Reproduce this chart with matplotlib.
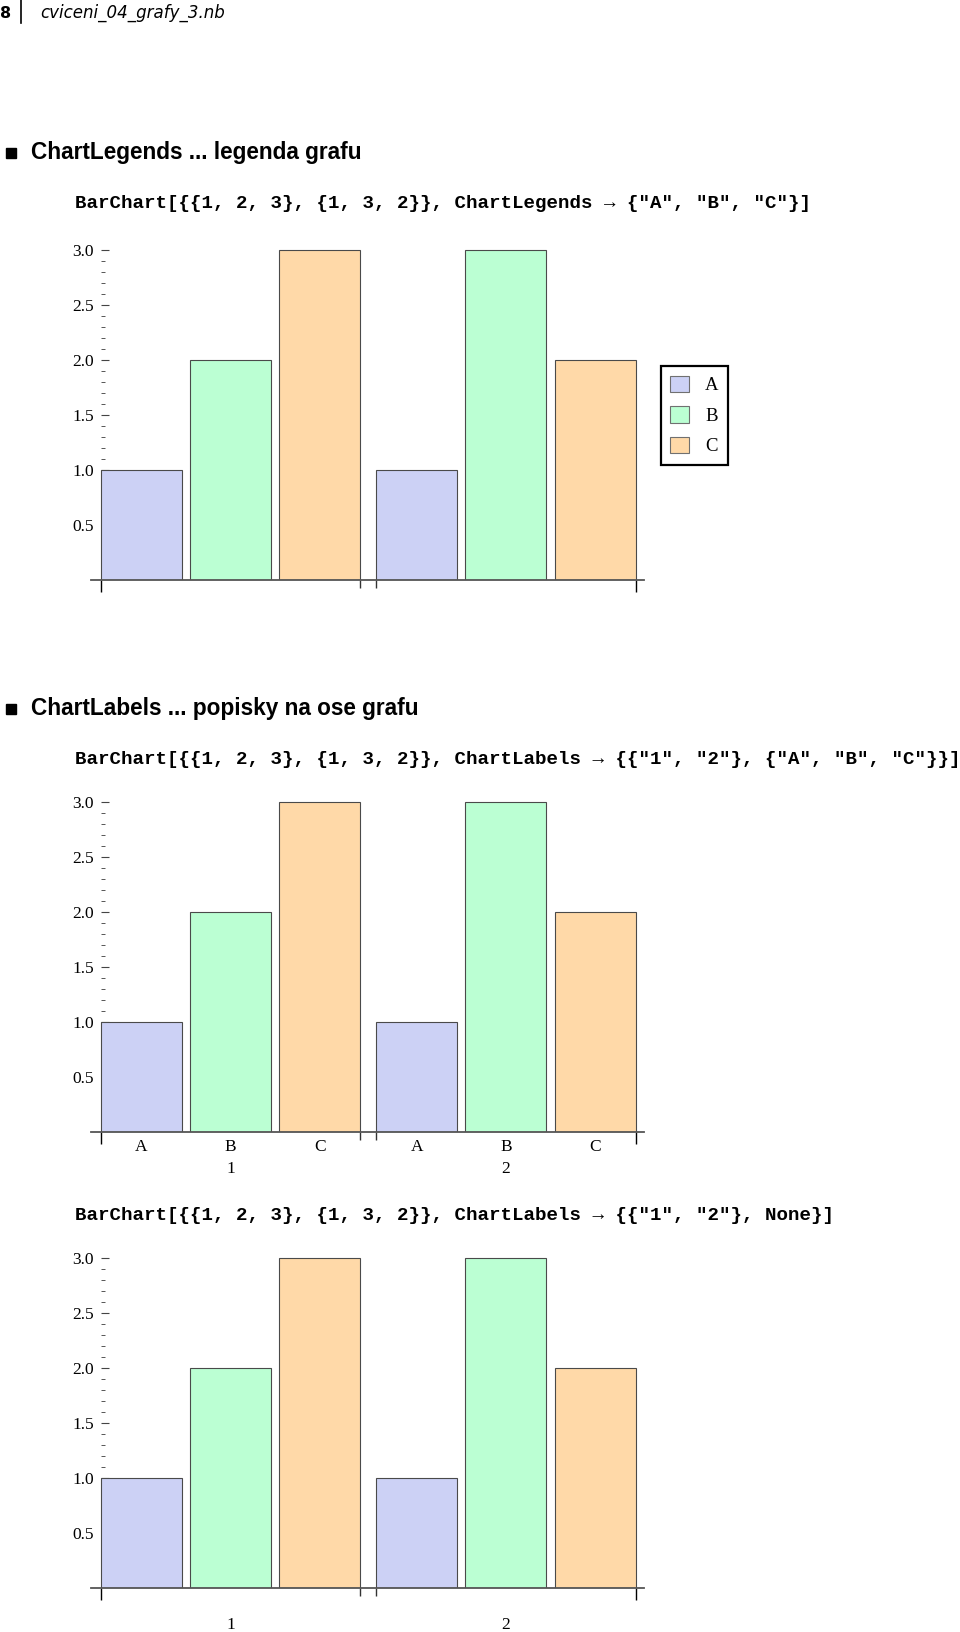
import matplotlib
matplotlib.use("Agg")
import matplotlib.pyplot as plt
from matplotlib import font_manager
from matplotlib.patches import Patch, Rectangle
from matplotlib.ticker import FixedLocator, NullFormatter
import numpy as np

# ---- data ----
series_labels = ["A", "B", "C"]
group_labels = ["1", "2"]
group_values = [[1, 2, 3], [1, 3, 2]]
fill_colors = ["#CCD1F5", "#BBFFD3", "#FFD9A8"]
y_major = [0.5, 1.0, 1.5, 2.0, 2.5, 3.0]
y_tick_labels = ["0.5", "1.0", "1.5", "2.0", "2.5", "3.0"]

header_page = "8"
header_file = "cviceni_04_grafy_3.nb"
heading1 = "ChartLegends ... legenda grafu"
heading2 = "ChartLabels ... popisky na ose grafu"
code1 = 'BarChart[{{1, 2, 3}, {1, 3, 2}}, ChartLegends \u2192 {"A", "B", "C"}]'
code2 = 'BarChart[{{1, 2, 3}, {1, 3, 2}}, ChartLabels \u2192 {{"1", "2"}, {"A", "B", "C"}}]'
code3 = 'BarChart[{{1, 2, 3}, {1, 3, 2}}, ChartLabels \u2192 {{"1", "2"}, None}]'


def have(fam):
    try:
        font_manager.findfont(font_manager.FontProperties(family=fam), fallback_to_default=False)
        return True
    except Exception:
        return False

narrow = have("Liberation Sans Narrow")
head_family = ["Liberation Sans Narrow", "DejaVu Sans"] if narrow else ["Liberation Sans", "DejaVu Sans"]
head_size = 18 if narrow else 16.3
serif = ["Liberation Serif", "DejaVu Serif"]
mono = ["Liberation Mono", "DejaVu Sans Mono"]

W, H = 960, 1632
fig = plt.figure(figsize=(W / 100, H / 100), dpi=100)
fig.patch.set_facecolor("white")


def fx(px):
    return px / W


def fy(py):
    return 1 - py / H


# ---- header ----
fig.text(fx(0), fy(13), header_page, fontsize=11.5, fontweight="bold",
         family=["DejaVu Sans"], va="center", ha="left")
fig.add_artist(plt.Line2D([fx(21), fx(21)], [fy(0), fy(23)], color="black", lw=1.2))
fig.text(fx(40), fy(13), header_file, fontsize=12, style="italic",
         family=["DejaVu Sans"], va="center", ha="left")

# ---- headings & code ----
for ytop, txt in [(153, heading1), (709, heading2)]:
    fig.add_artist(Rectangle((fx(6), fy(ytop + 5)), fx(10), 10 / H,
                             transform=fig.transFigure, color="black"))
    fig.text(fx(31), fy(ytop), txt, fontsize=head_size, fontweight="bold",
             family=head_family, va="center", ha="left")

for yc, txt in [(204, code1), (759, code2), (1215, code3)]:
    fig.text(fx(75), fy(yc), txt, fontsize=13.75, fontweight="bold",
             family=mono, va="center", ha="left")

# ---- bar charts ----
bar_w = 1.0
inner_gap = 0.1
group_gap = 0.2
unit_px = 81.0
y_px = 110.0
x0_px = 101.0
xlim = (-0.15, 6.8)
ylim = (0.0, 3.05)

positions = []
x = 0.0
for g in range(len(group_values)):
    row = []
    for s in range(len(series_labels)):
        row.append(x)
        x += bar_w + inner_gap
    x += group_gap - inner_gap
    positions.append(row)
group_start = [row[0] for row in positions]
group_end = [row[-1] + bar_w for row in positions]


def make_chart(axis_y_px, bar_labels=False, grp_labels=False):
    left_px = x0_px + xlim[0] * unit_px
    width_px = (xlim[1] - xlim[0]) * unit_px
    height_px = (ylim[1] - ylim[0]) * y_px
    ax = fig.add_axes([fx(left_px), fy(axis_y_px), width_px / W, height_px / H])
    ax.set_xlim(*xlim)
    ax.set_ylim(*ylim)
    ax.patch.set_alpha(0)
    for g, vals in enumerate(group_values):
        for s, v in enumerate(vals):
            ax.bar(positions[g][s], v, width=bar_w, align="edge",
                   color=fill_colors[s], edgecolor="#4a4a4a", linewidth=0.8, zorder=2)
    for sp in ["top", "right"]:
        ax.spines[sp].set_visible(False)
    ax.spines["left"].set_position(("data", 0))
    ax.spines["left"].set_linewidth(0)
    ax.spines["left"].set_color("none")
    ax.spines["bottom"].set_position(("data", 0))
    ax.spines["bottom"].set_bounds(-0.12, 6.7)
    ax.spines["bottom"].set_color("#555555")
    ax.spines["bottom"].set_linewidth(1.3)
    ax.spines["bottom"].set_zorder(3)
    # y ticks
    ax.yaxis.set_major_locator(FixedLocator(y_major))
    ax.set_yticklabels(y_tick_labels, family=serif, fontsize=12.5)
    minors = [round(v, 1) for v in np.arange(0.1, 3.01, 0.1) if round(v * 10) % 5 != 0]
    ax.yaxis.set_minor_locator(FixedLocator(minors))
    ax.tick_params(axis="y", which="major", direction="in", length=5.5, width=0.8,
                   color="#444444", pad=5)
    ax.tick_params(axis="y", which="minor", direction="in", length=3, width=0.7,
                   color="#555555")
    # x ticks
    ax.xaxis.set_major_locator(FixedLocator([group_start[0], group_end[-1]]))
    ax.xaxis.set_minor_locator(FixedLocator([group_end[0], group_start[1]]))
    ax.xaxis.set_major_formatter(NullFormatter())
    ax.xaxis.set_minor_formatter(NullFormatter())
    ax.tick_params(axis="x", which="major", direction="out", length=8.6, width=1.0, color="black")
    ax.tick_params(axis="x", which="minor", direction="out", length=6.0, width=1.0, color="#333333")
    trans = ax.get_xaxis_transform()
    if bar_labels:
        for g in range(len(group_values)):
            for s, lab in enumerate(series_labels):
                ax.text(positions[g][s] + bar_w / 2, -15 / height_px, lab, transform=trans,
                        ha="center", va="center", family=serif, fontsize=12.5, clip_on=False)
    if grp_labels:
        for g, lab in enumerate(group_labels):
            ax.text(positions[g][1] + bar_w / 2, -37 / height_px, lab, transform=trans,
                    ha="center", va="center", family=serif, fontsize=12.5, clip_on=False)
    return ax


ax1 = make_chart(580)
ax2 = make_chart(1132, bar_labels=True, grp_labels=True)
ax3 = make_chart(1588, grp_labels=True)

handles = [Patch(facecolor=c, edgecolor="#707070", linewidth=0.8) for c in fill_colors]
leg = fig.legend(handles, series_labels, loc="center",
                 bbox_to_anchor=(fx(694.5), fy(415.5)),
                 prop=font_manager.FontProperties(family=serif, size=13.5),
                 handlelength=1.0, handleheight=1.0, handletextpad=0.85,
                 labelspacing=0.62, borderpad=0.5, fancybox=False, framealpha=1)
leg.get_frame().set_edgecolor("black")
leg.get_frame().set_linewidth(1.6)

fig.savefig("out.png", dpi=100, facecolor="white")
